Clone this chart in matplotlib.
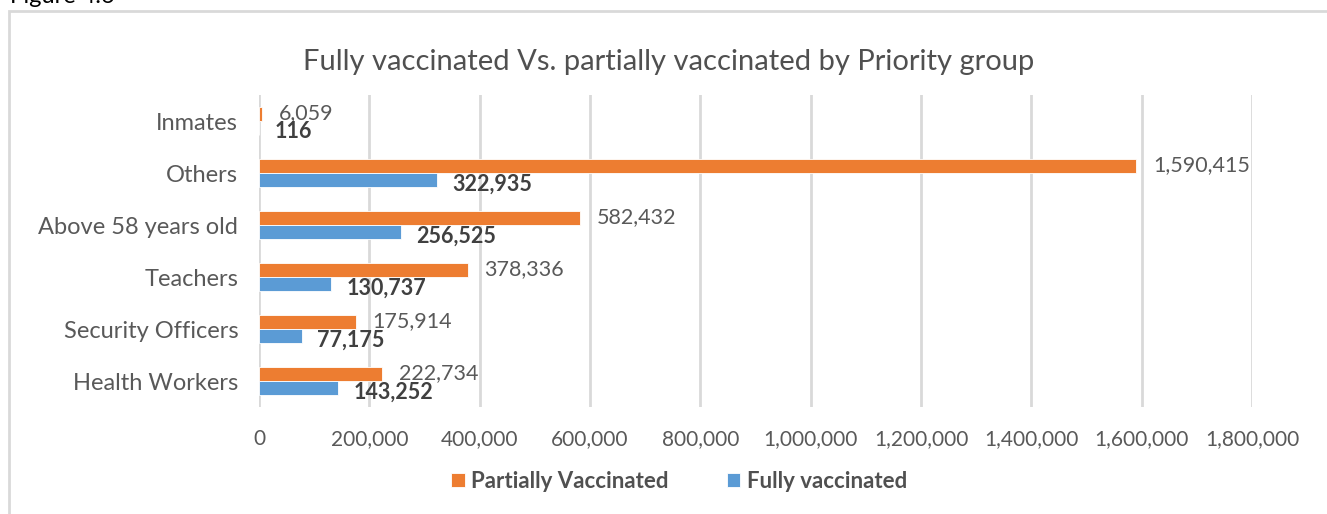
import matplotlib
matplotlib.use("Agg")
import matplotlib.pyplot as plt
from matplotlib.patches import Rectangle
import numpy as np

# data
groups = ["Inmates", "Others", "Above 58 years old", "Teachers",
          "Security Officers", "Health Workers"]
partially = [6059, 1590415, 582432, 378336, 175914, 222734]
fully = [116, 322935, 256525, 130737, 77175, 143252]
xticks = [0, 200000, 400000, 600000, 800000, 1000000,
          1200000, 1400000, 1600000, 1800000]

ORANGE = "#ED7D31"
BLUE = "#5B9BD5"
GRID = "#D9D9D9"
TXT = "#595959"

plt.rcParams["font.family"] = ["Lato", "DejaVu Sans"]

fig = plt.figure(figsize=(13.27, 5.14), dpi=100)
ax = fig.add_axes([259 / 1327, 1 - 407 / 514, (1252 - 259) / 1327, (407 - 95) / 514])

# outer chart frame (right and bottom edges fall outside the picture)
fig.patches.append(Rectangle((9 / 1327, -0.1), 1.2, 1 - 11 / 514 + 0.1,
                             transform=fig.transFigure, fill=False,
                             edgecolor=GRID, linewidth=2))
fig.text(10 / 1327, 1 - 3 / 514, "Figure 4.6", fontsize=17, color="#000000",
         ha="left", va="baseline")

n = len(groups)
pos = np.arange(n)[::-1]
h = 0.26

bo = ax.barh(pos + h / 2, partially, height=h, color=ORANGE,
             edgecolor="white", linewidth=0.6, label="Partially Vaccinated", zorder=3)
bb = ax.barh(pos - h / 2, fully, height=h, color=BLUE,
             edgecolor="white", linewidth=0.6, label="Fully vaccinated", zorder=3)

for p, v in zip(pos, partially):
    ax.annotate(f"{v:,}", (v, p + h / 2), xytext=(12, 1), textcoords="offset points",
                ha="left", va="center", fontsize=15.5, color=TXT, zorder=4)
for p, v in zip(pos, fully):
    ax.annotate(f"{v:,}", (v, p - h / 2), xytext=(11, -3), textcoords="offset points",
                ha="left", va="center", fontsize=15.5, fontweight="bold",
                color="#404040", zorder=4)

ax.set_xlim(0, 1800000)
ax.set_ylim(-0.5, n - 0.5)
ax.set_xticks(xticks)
ax.set_xticklabels([f"{t:,}" for t in xticks], fontsize=15, color=TXT)
ax.set_yticks(pos)
ax.set_yticklabels(groups, fontsize=17, color=TXT)
ax.tick_params(length=0)
ax.tick_params(axis="x", pad=16)
ax.tick_params(axis="y", pad=15)
ax.grid(axis="x", color=GRID, linewidth=2, zorder=0)
for s in ax.spines.values():
    s.set_visible(False)

fig.text(669 / 1327, 1 - 62 / 514,
         "Fully vaccinated Vs. partially vaccinated by Priority group",
         fontsize=21, color="#505050", ha="center", va="center")

leg = fig.legend(handles=[bo, bb], loc="center", bbox_to_anchor=(679 / 1327, 1 - 481 / 514),
                 ncol=2, frameon=False, handlelength=0.6, handleheight=0.6,
                 columnspacing=2.6, handletextpad=0.3,
                 prop={"size": 16, "weight": "bold"})
for t in leg.get_texts():
    t.set_color("#505050")

fig.savefig("out.png", dpi=100)
